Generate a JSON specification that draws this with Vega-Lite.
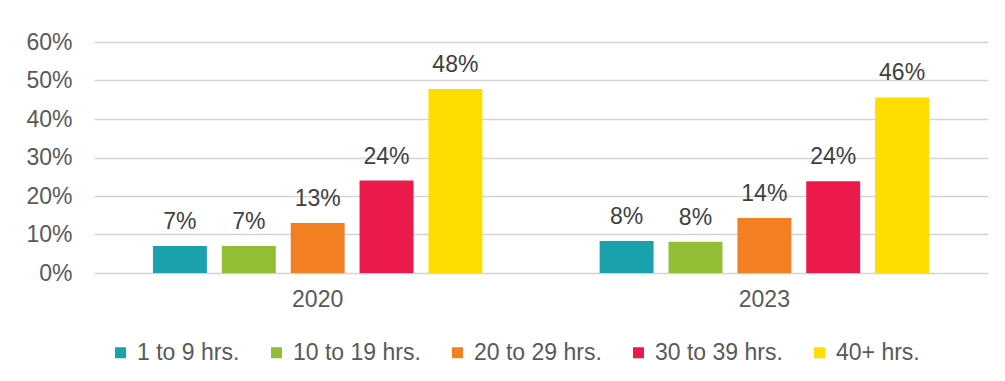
{
  "$schema": "https://vega.github.io/schema/vega-lite/v6.json",
  "autosize": "none",
  "width": 894,
  "height": 231,
  "padding": {"left": 94, "top": 42, "right": 17, "bottom": 108},
  "background": "white",
  "data": {
    "values": [
      {"year": "2020", "hours": "1 to 9 hrs.", "share": 0.07},
      {"year": "2020", "hours": "10 to 19 hrs.", "share": 0.07},
      {"year": "2020", "hours": "20 to 29 hrs.", "share": 0.13},
      {"year": "2020", "hours": "30 to 39 hrs.", "share": 0.24},
      {"year": "2020", "hours": "40+ hrs.", "share": 0.478},
      {"year": "2023", "hours": "1 to 9 hrs.", "share": 0.083},
      {"year": "2023", "hours": "10 to 19 hrs.", "share": 0.081},
      {"year": "2023", "hours": "20 to 29 hrs.", "share": 0.143},
      {"year": "2023", "hours": "30 to 39 hrs.", "share": 0.238},
      {"year": "2023", "hours": "40+ hrs.", "share": 0.456}
    ]
  },
  "encoding": {
    "x": {
      "field": "year", "type": "nominal",
      "scale": {"paddingInner": 0.2626, "paddingOuter": 0.132},
      "axis": {"title": null, "labelAngle": 0, "ticks": false, "domain": false, "labelPadding": 15, "labelFontSize": 23, "labelColor": "#595959", "labelFont": "Liberation Sans"}
    },
    "xOffset": {
      "field": "hours", "type": "nominal",
      "sort": ["1 to 9 hrs.", "10 to 19 hrs.", "20 to 29 hrs.", "30 to 39 hrs.", "40+ hrs."],
      "scale": {"paddingInner": 0.217, "paddingOuter": 0}
    },
    "y": {
      "field": "share", "type": "quantitative",
      "scale": {"domain": [0, 0.6], "nice": false},
      "axis": {"title": null, "format": ".0%", "values": [0, 0.1, 0.2, 0.3, 0.4, 0.5, 0.6], "ticks": false, "domain": false, "labelPadding": 22, "labelFontSize": 23, "labelColor": "#595959", "labelFont": "Liberation Sans", "gridColor": "#d4d4d4", "gridWidth": 1.5}
    }
  },
  "layer": [
    {
      "mark": {"type": "bar"},
      "encoding": {
        "color": {
          "field": "hours", "type": "nominal",
          "sort": ["1 to 9 hrs.", "10 to 19 hrs.", "20 to 29 hrs.", "30 to 39 hrs.", "40+ hrs."],
          "scale": {"domain": ["1 to 9 hrs.", "10 to 19 hrs.", "20 to 29 hrs.", "30 to 39 hrs.", "40+ hrs."], "range": ["#19A2AC", "#92BD34", "#F28023", "#EC1A4A", "#FFDD00"]},
          "legend": {
            "title": null, "orient": "none", "legendX": 15, "legendY": 299, "direction": "horizontal",
            "symbolType": "square", "symbolSize": 121, "symbolStrokeWidth": 0,
            "labelFontSize": 23, "labelColor": "#595959", "labelFont": "Liberation Sans",
            "labelOffset": 5, "columnPadding": 25
          }
        }
      }
    },
    {
      "mark": {"type": "text", "baseline": "alphabetic", "dy": -17, "fontSize": 23, "font": "Liberation Sans", "color": "#404040"},
      "encoding": {
        "text": {"field": "share", "type": "quantitative", "format": ".0%"}
      }
    }
  ],
  "config": {
    "view": {"stroke": null}
  }
}
